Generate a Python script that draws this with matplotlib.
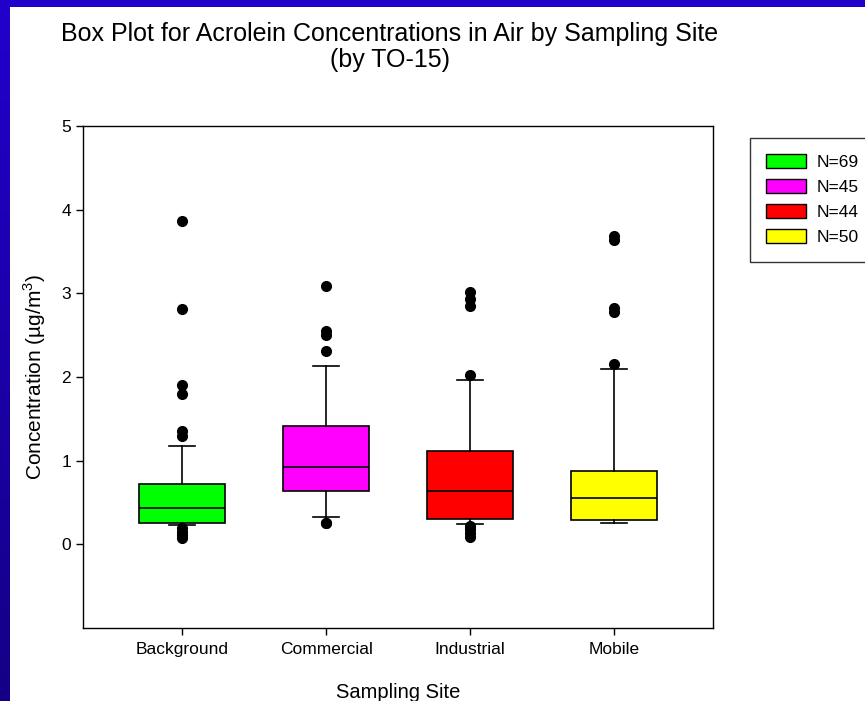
import numpy as np
import matplotlib
matplotlib.use("Agg")
import matplotlib.pyplot as plt
from matplotlib.patches import Rectangle, Patch

plt.rcParams['font.family'] = ['Liberation Sans', 'DejaVu Sans']
plt.rcParams['mathtext.fontset'] = 'custom'
plt.rcParams['mathtext.rm'] = 'Liberation Sans'

# data
sites = ['Background', 'Commercial', 'Industrial', 'Mobile']
counts = [69, 45, 44, 50]
colors = ['#00ff00', '#ff00ff', '#ff0000', '#ffff00']
q1 = [0.25, 0.64, 0.30, 0.29]
median = [0.44, 0.92, 0.64, 0.55]
q3 = [0.72, 1.42, 1.12, 0.88]
whisker_low = [0.23, 0.33, 0.24, 0.25]
whisker_high = [1.17, 2.13, 1.96, 2.09]
outliers = [
    [3.87, 2.81, 1.90, 1.80, 1.35, 1.30, 0.20, 0.15, 0.11, 0.08],
    [3.09, 2.55, 2.50, 2.31, 0.26, 0.25],
    [3.01, 2.93, 2.85, 2.02, 0.22, 0.18, 0.13, 0.09],
    [3.69, 3.64, 2.82, 2.78, 2.15],
]

fig = plt.figure(figsize=(8.65, 7.01), dpi=100)

# blue slide border on the top and left
bg = fig.add_axes([0, 0, 1, 1], zorder=-10)
grad = np.linspace(0, 1, 256).reshape(-1, 1)
top_col = np.array([0x22, 0x00, 0xcc]) / 255
bot_col = np.array([0x14, 0x00, 0x86]) / 255
img = top_col + (bot_col - top_col) * grad[:, :, None]
bg.imshow(img, extent=[0, 865, 701, 0], aspect='auto')
bg.add_patch(Rectangle((10, 7), 900, 700, facecolor='white', edgecolor='none'))
bg.set_xlim(0, 865)
bg.set_ylim(701, 0)
bg.axis('off')

ax = fig.add_axes([83 / 865, 1 - 628 / 701, 630 / 865, 502 / 701])

stats = []
for i, s in enumerate(sites):
    stats.append(dict(label=s, q1=q1[i], med=median[i], q3=q3[i],
                      whislo=whisker_low[i], whishi=whisker_high[i],
                      fliers=outliers[i]))

pos = np.arange(1, len(sites) + 1)
bp = ax.bxp(stats, positions=pos, widths=0.6, patch_artist=True,
            showfliers=True,
            boxprops=dict(edgecolor='black', linewidth=1.2),
            medianprops=dict(color='black', linewidth=1.2),
            whiskerprops=dict(color='black', linewidth=1.2),
            capprops=dict(color='black', linewidth=1.2),
            capwidths=0.18,
            flierprops=dict(marker='o', markerfacecolor='black',
                            markeredgecolor='black', markersize=7))
for patch, c in zip(bp['boxes'], colors):
    patch.set_facecolor(c)

ax.set_xlim(0.31, 4.69)
ax.set_ylim(-1, 5)
ax.set_yticks([0, 1, 2, 3, 4, 5])
ax.set_xticks(pos)
ax.set_xticklabels(sites)
ax.tick_params(axis='both', direction='out', length=5, width=1,
               labelsize=12.5, colors='black')
ax.tick_params(axis='x', pad=5)
for sp in ax.spines.values():
    sp.set_linewidth(1)
    sp.set_color('black')

ax.set_xlabel('Sampling Site', fontsize=14.5, labelpad=19)
ax.set_ylabel('Concentration (µg/m$^{3}$)', fontsize=15, labelpad=10)

fig.text(390 / 865, 1 - 22 / 701,
         'Box Plot for Acrolein Concentrations in Air by Sampling Site\n(by TO-15)',
         ha='center', va='top', fontsize=18, linespacing=1.1)

handles = [Patch(facecolor=c, edgecolor='black', linewidth=1) for c in colors]
labels = ['N=%d' % n for n in counts]
leg = fig.legend(handles, labels, loc='upper left',
                 bbox_to_anchor=(750 / 865, 1 - 138 / 701),
                 bbox_transform=fig.transFigure, borderaxespad=0,
                 fontsize=12.5, frameon=True, fancybox=False,
                 edgecolor='black', handlelength=2.3, handleheight=0.85,
                 handletextpad=0.6, labelspacing=0.52, borderpad=0.95)
leg.get_frame().set_linewidth(1)

fig.savefig('out.png', dpi=100)
